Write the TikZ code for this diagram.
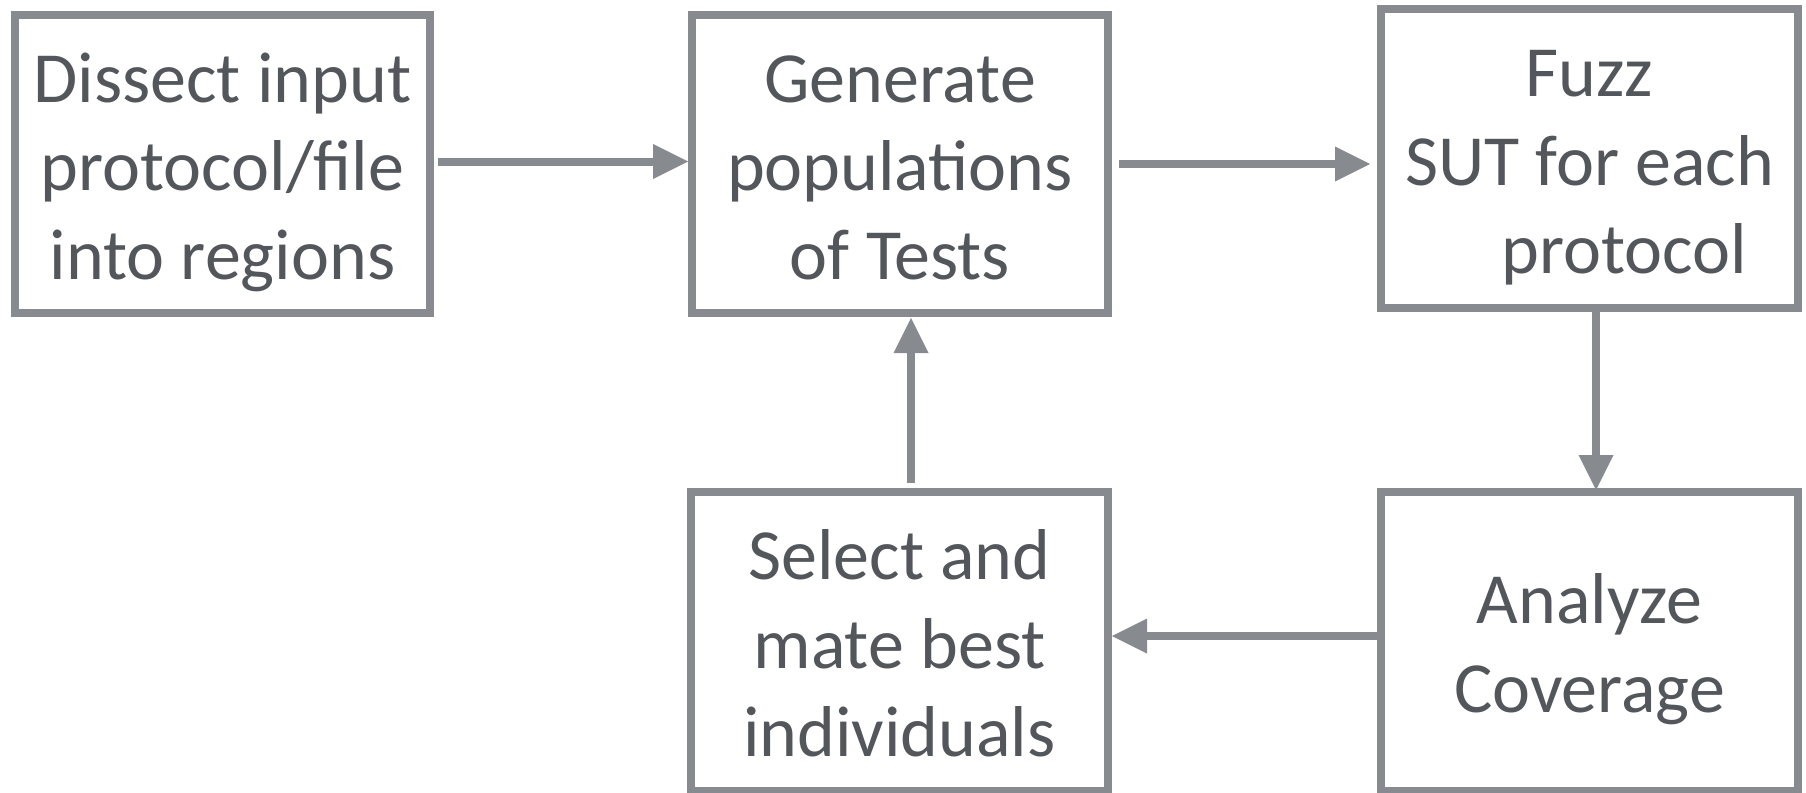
\documentclass[tikz,border=0pt]{standalone}
\usepackage{fontspec}
\setmainfont{Carlito}
\usetikzlibrary{arrows.meta,calc}
\definecolor{boxgray}{RGB}{135,138,142}
\definecolor{txtgray}{RGB}{83,87,92}
\newcommand{\topstrut}{\rule{0pt}{78.4pt}}
\newcommand{\botstrut}{\rule[-25pt]{0pt}{25pt}}
\begin{document}
\begin{tikzpicture}[x=1pt,y=-1pt,
  stepbox/.style={draw=boxgray, line width=8pt, rectangle, inner sep=0pt,
    align=center, text=txtgray, font=\fontsize{72}{88.7}\selectfont},
  flow/.style={draw=boxgray, line width=8pt,
    -{Triangle[length=35pt,width=35pt,line width=0pt]}}]
\useasboundingbox (0,0) rectangle (1806,792);
\node[stepbox, minimum width=415pt, minimum height=298pt] (b1) at (222.5,164)
  {\topstrut Dissect input\\protocol/file\\into regions\botstrut};
\node[stepbox, minimum width=416pt, minimum height=298pt] (b2) at (900,164)
  {\topstrut Generate\\populations\\of Tests\botstrut};
\node[stepbox, minimum width=417pt, minimum height=299pt] (b3) at (1589.5,158.5)
  {\topstrut Fuzz\\SUT for each\\\hspace*{70pt}protocol\botstrut};
\node[stepbox, minimum width=417pt, minimum height=299pt] (b4) at (899.5,641.5)
  {\topstrut Select and\\mate best\\individuals\botstrut};
\node[stepbox, minimum width=417pt, minimum height=299pt] (b5) at (1589.5,641.5)
  {\topstrut Analyze\\Coverage\botstrut};
\draw[flow] ($(b1.east)+(4,-2.5)$) -- ($(b2.west)+(0,-2.5)$);
\draw[flow] ($(b2.east)+(6.5,0)$) -- ($(b3.west)+(-7,5.5)$);
\draw[flow] ($(b3.south)+(6.5,0)$) -- ($(b5.north)+(6.5,2)$);
\draw[flow] ($(b5.west)+(0,-5.5)$) -- ($(b4.east)+(0,-5.5)$);
\draw[flow] ($(b4.north)+(11.5,-5)$) -- ($(b2.south)+(11,1)$);
\end{tikzpicture}
\end{document}
